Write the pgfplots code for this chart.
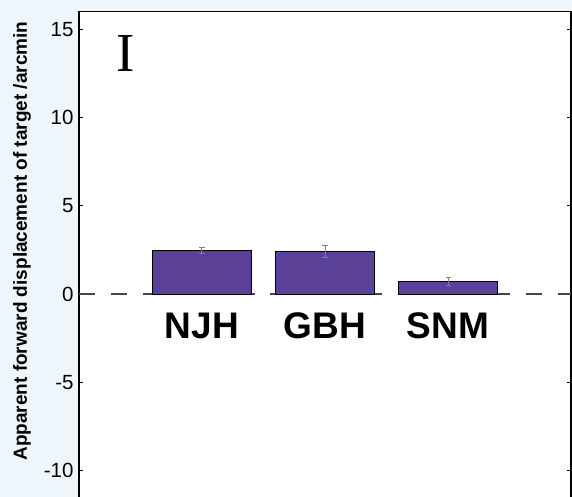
\documentclass[border=0pt]{standalone}
\usepackage{pgfplots}
\pgfplotsset{compat=1.18}
\usepackage{fontspec}
\setmainfont{Liberation Sans}
\newfontfamily\serifI{Liberation Serif}
\definecolor{bgc}{RGB}{238,246,252}
\definecolor{barc}{RGB}{91,64,152}
\begin{document}
\begin{tikzpicture}
\path[use as bounding box] (-79bp,9.1bp) rectangle (493bp,506.1bp);
\fill[bgc] (-79bp,9.1bp) rectangle (493bp,506.1bp);
\clip (-79bp,9.1bp) rectangle (493bp,506.1bp);
\begin{axis}[
 scale only axis, width=492bp, height=494.5bp,
 xmin=-1, xmax=3, ymin=-12, ymax=16,
 axis background/.style={fill=white},
 axis line style={line width=1.4bp},
 xtick={0,1,2}, xticklabels={NJH,GBH,SNM},
 xtick style={draw=none},
 xticklabel style={anchor=base, yshift=167.8bp, font=\fontsize{37bp}{40bp}\selectfont\bfseries},
 ytick={-10,-5,0,5,10,15}, yticklabels={-10,-5,0,5,10,15},
 yticklabel style={font=\fontsize{20.5bp}{22bp}\selectfont, xshift=-2bp},
 tick align=inside, major tick length=4.5bp,
 ytick style={line width=1bp, black},
 ylabel={Apparent forward displacement of target /arcmin},
 ylabel style={at={(axis description cs:-0.1057,0.536)}, anchor=base, font=\fontsize{19bp}{20bp}\selectfont\bfseries},
]
\addplot[color=black!72, line width=1.6bp, dash pattern=on 16bp off 15.9bp, forget plot] coordinates {(-1,0) (3,0)};
\addplot[ybar, bar width=99bp, bar shift=0pt, fill=barc, draw=black, line width=1.2bp,
 error bars/.cd, y dir=both, y explicit,
 error bar style={gray, line width=1bp},
 error mark options={gray, line width=1bp, mark size=2.5bp, rotate=90}]
 coordinates {(0,2.49) +- (0,0.17) (1,2.43) +- (0,0.34) (2,0.72) +- (0,0.22)};
\node[anchor=base, font=\serifI\fontsize{55bp}{60bp}\selectfont] at (rel axis cs:0.0955,0.8785) {I};
\end{axis}
\end{tikzpicture}
\end{document}
